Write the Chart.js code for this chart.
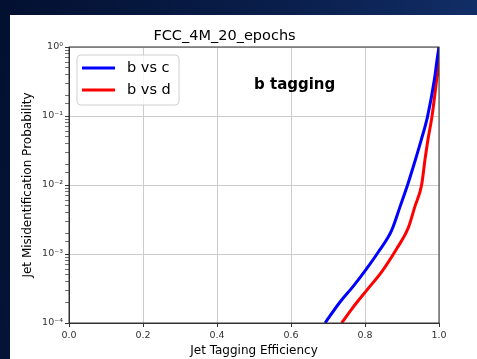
<!DOCTYPE html>
<html>
<head>
<meta charset="utf-8">
<script src="https://cdn.jsdelivr.net/npm/chart.js@4.4.1/dist/chart.umd.min.js"></script>
<style>
    html, body { margin: 0; padding: 0; }
    body {
        width: 477px;
        height: 359px;
        overflow: hidden;
        background: linear-gradient(100deg, #031030 0%, #0a1f4d 55%, #14336f 100%);
    }
    #panel {
        position: absolute;
        left: 10px;
        top: 15px;
        width: 467px;
        height: 344px;
        background: #fff;
    }
</style>
</head>
<body>
<div id="panel"><canvas id="rocChart"></canvas></div>
<script>
// Text in the figure
const chartTitle = 'FCC_4M_20_epochs';
const xTitle = 'Jet Tagging Efficiency';
const yTitle = 'Jet Misidentification Probability';
const annotationText = 'b tagging';

// Series labels and colours
const seriesLabels = ['b vs c', 'b vs d'];
const seriesColors = ['#0000ff', '#ff0000'];

// ROC curves (efficiency, misid probability)
const bVsCEff   = [0.692, 0.732, 0.768, 0.805, 0.836, 0.872, 0.895, 0.915, 0.936, 0.952, 0.969, 0.988, 0.9955, 1.0];
const bVsCMisid = [1.0e-4, 2.0e-4, 3.4e-4, 6.2e-4, 1.07e-3, 2.2e-3, 4.9e-3, 1.0e-2, 2.3e-2, 4.5e-2, 9.8e-2, 0.35, 0.7, 1.0];
const bVsDEff   = [0.737, 0.768, 0.805, 0.845, 0.886, 0.917, 0.935, 0.953, 0.962, 0.970, 0.981, 0.994, 0.999, 1.0];
const bVsDMisid = [1.0e-4, 1.7e-4, 3.0e-4, 5.5e-4, 1.2e-3, 2.4e-3, 4.9e-3, 1.0e-2, 2.3e-2, 4.5e-2, 9.8e-2, 0.35, 0.6, 1.0];

// Axis ranges and tick labels
const xTicks = [0.0, 0.2, 0.4, 0.6, 0.8, 1.0];
const yMin = 1e-4;
const yMax = 1;

// Where the "b tagging" note sits, in data units
const annotationX = 0.5;
const annotationY = 0.28;

const SUP = { '-': '\u207B', '0': '\u2070', '1': '\u00B9', '2': '\u00B2', '3': '\u00B3',
              '4': '\u2074', '5': '\u2075', '6': '\u2076', '7': '\u2077', '8': '\u2078', '9': '\u2079' };

function isDecade(v) {
    const e = Math.log10(v);
    return Math.abs(e - Math.round(e)) < 1e-6;
}

function toPoints(xs, ys) {
    return xs.map((x, i) => ({ x: x, y: ys[i] }));
}

// Draws the frame, the boxed legend and the bold note inside the plot
const overlayPlugin = {
    id: 'overlay',
    afterDatasetsDraw(chart) {
        const ctx = chart.ctx;
        const area = chart.chartArea;
        ctx.save();

        // bold note
        ctx.font = 'bold 15px "DejaVu Sans", sans-serif';
        ctx.fillStyle = '#000';
        ctx.textAlign = 'left';
        ctx.textBaseline = 'middle';
        ctx.fillText(annotationText, chart.scales.x.getPixelForValue(annotationX),
                     chart.scales.y.getPixelForValue(annotationY));

        // legend box
        const bx = area.left + 8, by = area.top + 8, bw = 102, bh = 50;
        ctx.beginPath();
        ctx.roundRect(bx, by, bw, bh, 4);
        ctx.fillStyle = 'rgba(255,255,255,0.8)';
        ctx.fill();
        ctx.strokeStyle = '#d0d0d0';
        ctx.lineWidth = 1;
        ctx.stroke();

        ctx.font = '14.5px "DejaVu Sans", sans-serif';
        chart.data.datasets.forEach((ds, i) => {
            const yy = by + 13 + i * 22;
            ctx.beginPath();
            ctx.moveTo(bx + 5, yy);
            ctx.lineTo(bx + 38, yy);
            ctx.strokeStyle = ds.borderColor;
            ctx.lineWidth = 3;
            ctx.stroke();
            ctx.fillStyle = '#000';
            ctx.fillText(ds.label, bx + 50, yy);
        });

        // axes frame
        ctx.strokeStyle = '#333';
        ctx.lineWidth = 1;
        ctx.strokeRect(area.left, area.top, area.right - area.left, area.bottom - area.top);
        ctx.restore();
    }
};

const rocChart = new Chart(document.getElementById('rocChart'), {
    type: 'scatter',
    data: {
        datasets: [
            {
                label: seriesLabels[0],
                data: toPoints(bVsCEff, bVsCMisid),
                borderColor: seriesColors[0],
                backgroundColor: seriesColors[0],
                showLine: true,
                borderWidth: 3,
                pointRadius: 0,
                cubicInterpolationMode: 'monotone'
            },
            {
                label: seriesLabels[1],
                data: toPoints(bVsDEff, bVsDMisid),
                borderColor: seriesColors[1],
                backgroundColor: seriesColors[1],
                showLine: true,
                borderWidth: 3,
                pointRadius: 0,
                cubicInterpolationMode: 'monotone'
            }
        ]
    },
    options: {
        responsive: true,
        maintainAspectRatio: false,
        animation: false,
        layout: { padding: { left: 0, right: 38, top: 0, bottom: 0 } },
        plugins: {
            legend: { display: false },
            tooltip: { enabled: false },
            title: {
                display: true,
                text: chartTitle,
                color: '#000',
                font: { family: '"DejaVu Sans", sans-serif', size: 14.5, weight: 'normal' },
                padding: { top: 13, bottom: 1.6 }
            }
        },
        scales: {
            x: {
                type: 'linear',
                min: 0,
                max: 1,
                afterBuildTicks: scale => { scale.ticks = xTicks.map(v => ({ value: v })); },
                afterFit: scale => { scale.height = 36; },
                ticks: {
                    color: '#333',
                    font: { family: '"DejaVu Sans", sans-serif', size: 9.5 },
                    padding: 3,
                    maxRotation: 0,
                    callback: v => Number(v).toFixed(1)
                },
                grid: { color: '#cccccc', tickColor: '#333', tickLength: 4 },
                border: { color: '#333' },
                title: {
                    display: true,
                    text: xTitle,
                    color: '#000',
                    font: { family: '"DejaVu Sans", sans-serif', size: 12 },
                    padding: { top: 0, bottom: 1 }
                }
            },
            y: {
                type: 'logarithmic',
                min: yMin,
                max: yMax,
                afterFit: scale => { scale.width = 59; },
                ticks: {
                    color: '#333',
                    autoSkip: false,
                    font: { family: '"DejaVu Sans", sans-serif', size: 9.5 },
                    padding: 2,
                    callback: function (v) {
                        if (!isDecade(v)) return '';
                        const e = String(Math.round(Math.log10(v)));
                        return '10' + e.split('').map(c => SUP[c]).join('');
                    }
                },
                grid: {
                    color: ctx => (ctx.tick && isDecade(ctx.tick.value)) ? '#cccccc' : 'rgba(0,0,0,0)',
                    tickColor: '#333',
                    tickWidth: ctx => (ctx.tick && isDecade(ctx.tick.value)) ? 1 : 0.7,
                    tickLength: 4
                },
                border: { color: '#333' },
                title: {
                    display: true,
                    text: yTitle,
                    color: '#000',
                    font: { family: '"DejaVu Sans", sans-serif', size: 12 },
                    padding: { top: 11, bottom: 0 }
                }
            }
        }
    },
    plugins: [overlayPlugin]
});
</script>
</body>
</html>
